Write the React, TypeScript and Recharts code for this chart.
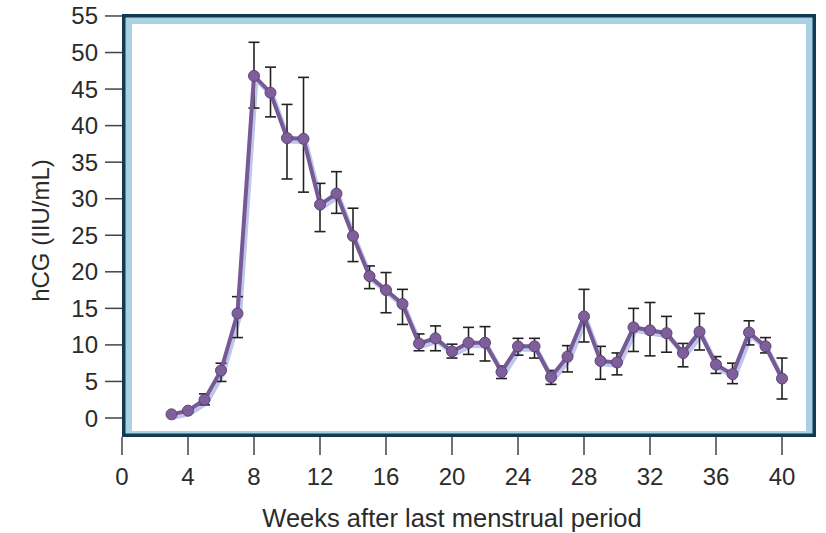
import React from "react";
import {
  LineChart,
  Line,
  XAxis,
  YAxis,
  ErrorBar,
  ReferenceArea,
} from "recharts";

const weeks = [
  3, 4, 5, 6, 7, 8, 9, 10, 11, 12, 13, 14, 15, 16, 17, 18, 19, 20, 21, 22, 23,
  24, 25, 26, 27, 28, 29, 30, 31, 32, 33, 34, 35, 36, 37, 38, 39, 40,
];

const hcgMean = [
  0.5, 1.0, 2.5, 6.5, 14.3, 46.8, 44.5, 38.3, 38.2, 29.2, 30.7, 24.9, 19.4,
  17.5, 15.6, 10.2, 10.9, 9.1, 10.3, 10.3, 6.3, 9.8, 9.8, 5.6, 8.4, 13.9, 7.8,
  7.6, 12.4, 12.0, 11.6, 8.9, 11.8, 7.3, 6.0, 11.7, 9.8, 5.4,
];

const hcgUpper = [
  null, null, 3.3, 7.5, 16.6, 51.4, 48.0, 42.9, 46.6, 32.1, 33.7, 28.7, 20.8,
  19.9, 17.6, 11.5, 12.6, 10.1, 12.4, 12.5, 7.1, 10.9, 10.9, 6.5, 9.9, 17.6,
  9.8, 8.9, 15.0, 15.8, 13.9, 10.2, 14.3, 8.4, 7.5, 13.3, 11.0, 8.2,
];

const hcgLower = [
  null, null, 1.8, 5.0, 11.0, 42.4, 41.2, 32.7, 30.9, 25.5, 28.0, 21.4, 17.7,
  14.4, 12.8, 9.2, 9.2, 8.2, 8.7, 7.8, 5.4, 8.6, 8.2, 4.6, 6.3, 10.4, 5.3, 5.9,
  9.1, 8.5, 9.0, 7.0, 9.3, 6.1, 4.7, 10.0, 8.9, 2.6,
];

const xTicks = [0, 4, 8, 12, 16, 20, 24, 28, 32, 36, 40];
const yTicks = [0, 5, 10, 15, 20, 25, 30, 35, 40, 45, 50, 55];

const X_MIN = 0;
const X_MAX = 42.06;
const Y_MIN = -2.6;
const Y_MAX = 55.27;

const data = weeks.map((w, i) => {
  const lo = hcgLower[i];
  const hi = hcgUpper[i];
  return {
    week: w,
    hcg: hcgMean[i],
    err: lo == null || hi == null ? null : [hcgMean[i] - lo, hi - hcgMean[i]],
  };
});

const FONT = "'Liberation Sans', Arial, Helvetica, sans-serif";
const TEXT = "#2b2b2b";
const tickStyle = { fontSize: 24, fill: TEXT, fontFamily: FONT };

const Frame = (props: any) => {
  const { x, y, width, height } = props;
  return (
    <g>
      <rect x={x} y={y} width={width} height={height} fill="#123a52" />
      <rect
        x={x + 3.5}
        y={y + 3.5}
        width={width - 7}
        height={height - 7}
        fill="#a9d0e3"
      />
      <rect
        x={x + 10}
        y={y + 10}
        width={width - 20}
        height={height - 16}
        fill="#ffffff"
      />
    </g>
  );
};

const YTitle = (props: any) => {
  const vb = props.viewBox;
  const cx = 40;
  const cy = vb.y + vb.height / 2 + 5;
  return (
    <text
      x={cx}
      y={cy}
      transform={`rotate(-90, ${cx}, ${cy})`}
      textAnchor="middle"
      dominantBaseline="central"
      fontSize={24}
      fill={TEXT}
      fontFamily={FONT}
    >
      hCG (IIU/mL)
    </text>
  );
};

const XTitle = (props: any) => {
  const vb = props.viewBox;
  const cx = vb.x + (vb.width * (20 - X_MIN)) / (X_MAX - X_MIN);
  return (
    <text
      x={cx}
      y={527}
      textAnchor="middle"
      fontSize={25.5}
      fill={TEXT}
      fontFamily={FONT}
    >
      Weeks after last menstrual period
    </text>
  );
};

export default function App() {
  return (
    <div
      style={{
        position: "absolute",
        left: 0,
        top: 0,
        width: 826,
        height: 533,
        background: "#fff",
      }}
    >
      <style>{`.hcg-shadow { transform: translate(2px, 3px); }`}</style>
      <LineChart
        width={826}
        height={533}
        data={data}
        margin={{ top: 14, right: 10, bottom: 0, left: 0 }}
      >
        <XAxis
          dataKey="week"
          type="number"
          domain={[X_MIN, X_MAX]}
          ticks={xTicks}
          axisLine={false}
          tickLine={{ stroke: "#444", strokeWidth: 1.5 }}
          tickSize={18}
          tickMargin={13}
          height={96}
          tick={tickStyle}
          interval={0}
          label={{ content: <XTitle /> }}
        />
        <YAxis
          type="number"
          domain={[Y_MIN, Y_MAX]}
          ticks={yTicks}
          axisLine={false}
          tickLine={{ stroke: "#444", strokeWidth: 1.5 }}
          tickSize={17}
          tickMargin={7}
          width={122}
          tick={tickStyle}
          interval={0}
          label={{ content: <YTitle /> }}
        />
        <ReferenceArea
          x1={X_MIN}
          x2={X_MAX}
          y1={Y_MIN}
          y2={Y_MAX}
          shape={<Frame />}
        />
        <Line
          className="hcg-shadow"
          type="linear"
          dataKey="hcg"
          stroke="#bfc6ec"
          strokeWidth={5}
          dot={false}
          activeDot={false}
          isAnimationActive={false}
        />
        <Line
          type="linear"
          dataKey="hcg"
          stroke="#775a95"
          strokeWidth={4}
          dot={{ r: 5.5, fill: "#7e5f9c", stroke: "#5c4476", strokeWidth: 1 }}
          activeDot={false}
          isAnimationActive={false}
        >
          <ErrorBar
            dataKey="err"
            direction="y"
            width={5.5}
            stroke="#222"
            strokeWidth={1.6}
          />
        </Line>
      </LineChart>
    </div>
  );
}
